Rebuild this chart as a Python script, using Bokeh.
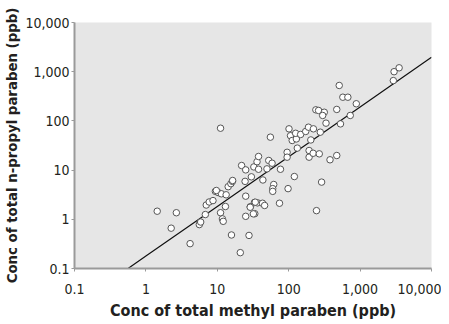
import numpy as np
from bokeh.plotting import figure
from bokeh.models import FixedTicker, CustomJSTickFormatter, ColumnDataSource
from bokeh.embed import file_html
from bokeh.resources import INLINE

# Concentration of total methyl paraben (ppb) -- x
methyl_ppb = [1.44, 2.67, 2.26, 4.16, 5.6, 5.85, 6.8, 7.0, 7.7, 8.7,
              9.4, 10.3, 11.4, 13.3, 11.1, 11.8, 12.1, 13.0, 14.2, 15.5,
              16.3, 15.8, 21.0, 21.9, 25.0, 24.5, 25.0, 25.0, 27.8, 29.0,
              33.2, 33.5, 36.6, 30.0, 32.5, 36.0, 37.8, 37.8, 43.0, 46.0,
              43.5, 49.6, 52.5, 58.5, 61.7, 59.7, 59.7, 76.7, 74.3, 98.0,
              120.0, 245.0, 11.1, 55.4, 95.0, 95.0, 132.0, 193.0, 193.0, 220.0,
              268.0, 379.0, 471.0, 101.0, 106.0, 112.0, 128.0, 125.0, 147.0, 173.0,
              189.0, 204.0, 222.0, 277.0, 333.0, 240.0, 262.0, 315.0, 299.0, 471.0,
              510.0, 573.0, 674.0, 885.0, 531.0, 728.0, 2990.0, 3520.0, 2920.0, 289.0,
              9.7, 16.4, 34.0, 28.9, 32.0]
# Concentration of total n-propyl paraben (ppb) -- y
propyl_ppb = [1.46, 1.36, 0.66, 0.32, 0.78, 0.88, 1.25, 1.95, 2.25, 2.4,
              3.7, 3.5, 3.3, 3.15, 1.36, 1.02, 0.91, 1.82, 4.6, 5.3,
              5.9, 0.48, 0.21, 12.4, 10.1, 5.9, 2.95, 1.15, 0.47, 1.8,
              2.2, 1.3, 2.16, 7.3, 11.6, 14.8, 10.4, 18.9, 2.12, 1.91,
              6.3, 10.6, 15.7, 13.8, 5.1, 4.2, 3.7, 10.4, 2.12, 4.2,
              7.4, 1.5, 71.0, 46.7, 23.0, 18.3, 28.0, 25.0, 18.3, 22.0,
              21.4, 16.2, 19.8, 69.0, 50.0, 40.0, 43.0, 56.0, 53.0, 61.0,
              74.5, 41.0, 69.0, 59.0, 90.0, 168.0, 163.0, 150.0, 129.0, 171.0,
              525.0, 303.0, 303.0, 223.0, 87.0, 129.0, 1000.0, 1200.0, 660.0, 5.7,
              3.85, 6.15, 2.23, 1.76, 1.29]

tick_values = [0.1, 1, 10, 100, 1000, 10000]
tick_labels = ["0.1", "1", "10", "100", "1,000", "10,000"]

# regression line in log10 space: log y = slope * log x + intercept
fit_slope = 1.01
fit_intercept = -0.7475

FONT = "DejaVu Sans Condensed, sans-serif"
TEXT = "#231f20"
AXIS = "#9a9a9a"

p = figure(x_axis_type="log", y_axis_type="log",
           x_range=(0.1, 10000), y_range=(0.1, 10000),
           width=441, height=322,
           min_border_left=70, min_border_right=10,
           min_border_top=22, min_border_bottom=54,
           output_backend="svg", toolbar_location=None)

p.background_fill_color = "#e6e6e6"
p.border_fill_color = "white"
p.outline_line_color = None
p.xgrid.grid_line_color = None
p.ygrid.grid_line_color = None

fmt_code = """
let best = 0, bd = Infinity;
for (let i = 0; i < tvals.length; i++) {
  const d = Math.abs(Math.log10(tick) - Math.log10(tvals[i]));
  if (d < bd) { bd = d; best = i; }
}
return tlabels[best];
"""
for ax in (p.xaxis[0], p.yaxis[0]):
    ax.ticker = FixedTicker(ticks=tick_values, minor_ticks=[])
    ax.formatter = CustomJSTickFormatter(args=dict(tvals=tick_values, tlabels=tick_labels), code=fmt_code)
    ax.axis_line_color = AXIS
    ax.axis_line_width = 2
    ax.major_tick_line_color = AXIS
    ax.major_tick_line_width = 1
    ax.major_tick_out = 3
    ax.major_tick_in = 0
    ax.minor_tick_line_color = None
    ax.major_label_text_font = FONT
    ax.major_label_text_font_size = "14px"
    ax.major_label_text_color = TEXT
    ax.axis_label_text_font = FONT
    ax.axis_label_text_font_style = "bold"
    ax.axis_label_text_color = TEXT

p.xaxis.axis_label = "Conc of total methyl paraben (ppb)"
p.yaxis.axis_label = "Conc of total n-propyl paraben (ppb)"
p.xaxis.axis_label_text_font_size = "16px"
p.yaxis.axis_label_text_font_size = "14.8px"
p.xaxis.major_label_standoff = 12
p.xaxis.axis_label_standoff = 4
p.yaxis.major_label_standoff = 2
p.yaxis.axis_label_standoff = 2

# regression line
lx = np.array(tick_values, dtype=float)
ly = 10 ** (fit_intercept + fit_slope * np.log10(lx))
p.line(lx, ly, line_color="#111111", line_width=1.2)

src = ColumnDataSource(dict(x=methyl_ppb, y=propyl_ppb))
p.scatter("x", "y", source=src, marker="circle", size=6.5,
          fill_color="white", line_color="#555555", line_width=1)

open("out.html", "w").write(file_html(p, INLINE))
